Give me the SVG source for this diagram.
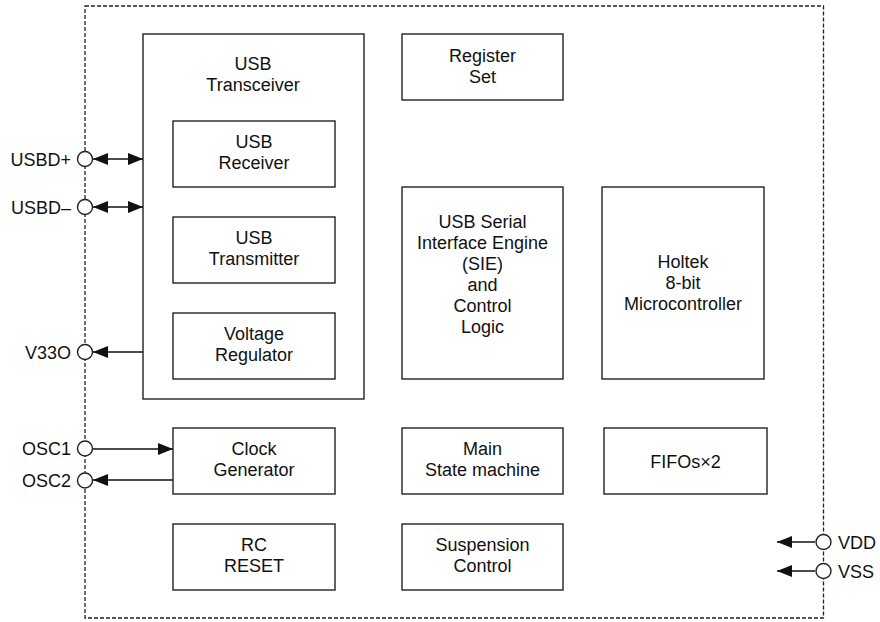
<svg xmlns="http://www.w3.org/2000/svg" width="880" height="622" viewBox="0 0 880 622">
<style>
.box{fill:#fff;stroke:#222;stroke-width:1.4}
.t{font-family:"Liberation Sans",Arial,sans-serif;font-size:18px;fill:#111;text-anchor:middle}
.pl{font-family:"Liberation Sans",Arial,sans-serif;font-size:18px;fill:#111}
.w{stroke:#111;stroke-width:1.4;fill:none}
.pin{fill:#fff;stroke:#222;stroke-width:1.4}
</style>
<defs>
<marker id="ah" viewBox="0 0 15 12" refX="15" refY="6" markerWidth="15" markerHeight="12" markerUnits="userSpaceOnUse" orient="auto-start-reverse">
<path d="M0,0 L15,6 L0,12 Z" fill="#111"/>
</marker>
</defs>
<rect id="border" x="85" y="6" width="738.5" height="612" fill="none" stroke="#222" stroke-width="1.3" stroke-dasharray="4,2"/>

<g id="transceiver"><rect class="box" x="143" y="34" width="221" height="365"/>
<text class="t" x="253" y="70">USB</text><text class="t" x="253" y="91">Transceiver</text></g>
<g id="receiver"><rect class="box" x="173" y="121" width="162" height="66"/>
<text class="t" x="254" y="148">USB</text><text class="t" x="254" y="169">Receiver</text></g>
<g id="transmitter"><rect class="box" x="173" y="217" width="162" height="66"/>
<text class="t" x="254" y="244">USB</text><text class="t" x="254" y="265">Transmitter</text></g>
<g id="vreg"><rect class="box" x="173" y="313" width="162" height="66"/>
<text class="t" x="254" y="340">Voltage</text><text class="t" x="254" y="361">Regulator</text></g>
<g id="regset"><rect class="box" x="402" y="34" width="161" height="66"/>
<text class="t" x="482.5" y="62">Register</text><text class="t" x="482.5" y="83">Set</text></g>
<g id="sie"><rect class="box" x="402" y="187" width="161" height="192"/>
<text class="t" x="482.5" y="228">USB Serial</text><text class="t" x="482.5" y="249">Interface Engine</text><text class="t" x="482.5" y="270">(SIE)</text><text class="t" x="482.5" y="291">and</text><text class="t" x="482.5" y="312">Control</text><text class="t" x="482.5" y="333">Logic</text></g>
<g id="mcu"><rect class="box" x="602" y="187" width="162" height="192"/>
<text class="t" x="683" y="268">Holtek</text><text class="t" x="683" y="289">8-bit</text><text class="t" x="683" y="310">Microcontroller</text></g>
<g id="clock"><rect class="box" x="173" y="428" width="162" height="66"/>
<text class="t" x="254" y="455">Clock</text><text class="t" x="254" y="476">Generator</text></g>
<g id="mainsm"><rect class="box" x="402" y="428" width="161" height="66"/>
<text class="t" x="482.5" y="455">Main</text><text class="t" x="482.5" y="476">State machine</text></g>
<g id="fifos"><rect class="box" x="604" y="428" width="163" height="66"/>
<text class="t" x="685.5" y="468">FIFOs×2</text></g>
<g id="rcreset"><rect class="box" x="173" y="524" width="162" height="66"/>
<text class="t" x="254" y="551">RC</text><text class="t" x="254" y="572">RESET</text></g>
<g id="suspend"><rect class="box" x="402" y="524" width="161" height="66"/>
<text class="t" x="482.5" y="551">Suspension</text><text class="t" x="482.5" y="572">Control</text></g>

<g id="connectors">
<line class="w" x1="93" y1="159" x2="143" y2="159" marker-start="url(#ah)" marker-end="url(#ah)"/>
<line class="w" x1="93" y1="207" x2="143" y2="207" marker-start="url(#ah)" marker-end="url(#ah)"/>
<line class="w" x1="143" y1="352" x2="93" y2="352" marker-end="url(#ah)"/>
<line class="w" x1="93" y1="449" x2="173" y2="449" marker-end="url(#ah)"/>
<line class="w" x1="173" y1="480" x2="93" y2="480" marker-end="url(#ah)"/>
<line class="w" x1="815" y1="542" x2="777" y2="542" marker-end="url(#ah)"/>
<line class="w" x1="815" y1="571" x2="777" y2="571" marker-end="url(#ah)"/>
</g>

<g id="pin-usbdp"><circle class="pin" cx="85" cy="159" r="7.5"/><text class="pl" x="71" y="165.5" text-anchor="end">USBD+</text></g>
<g id="pin-usbdm"><circle class="pin" cx="85" cy="207" r="7.5"/><text class="pl" x="71" y="213.5" text-anchor="end">USBD–</text></g>
<g id="pin-v33o"><circle class="pin" cx="85" cy="352" r="7.5"/><text class="pl" x="71" y="358.5" text-anchor="end">V33O</text></g>
<g id="pin-osc1"><circle class="pin" cx="85" cy="448.5" r="7.5"/><text class="pl" x="71" y="455" text-anchor="end">OSC1</text></g>
<g id="pin-osc2"><circle class="pin" cx="85" cy="480.5" r="7.5"/><text class="pl" x="71" y="487" text-anchor="end">OSC2</text></g>
<g id="pin-vdd"><circle class="pin" cx="823.5" cy="542" r="7.5"/><text class="pl" x="838" y="548.5">VDD</text></g>
<g id="pin-vss"><circle class="pin" cx="823.5" cy="571" r="7.5"/><text class="pl" x="838" y="577.5">VSS</text></g>
</svg>
